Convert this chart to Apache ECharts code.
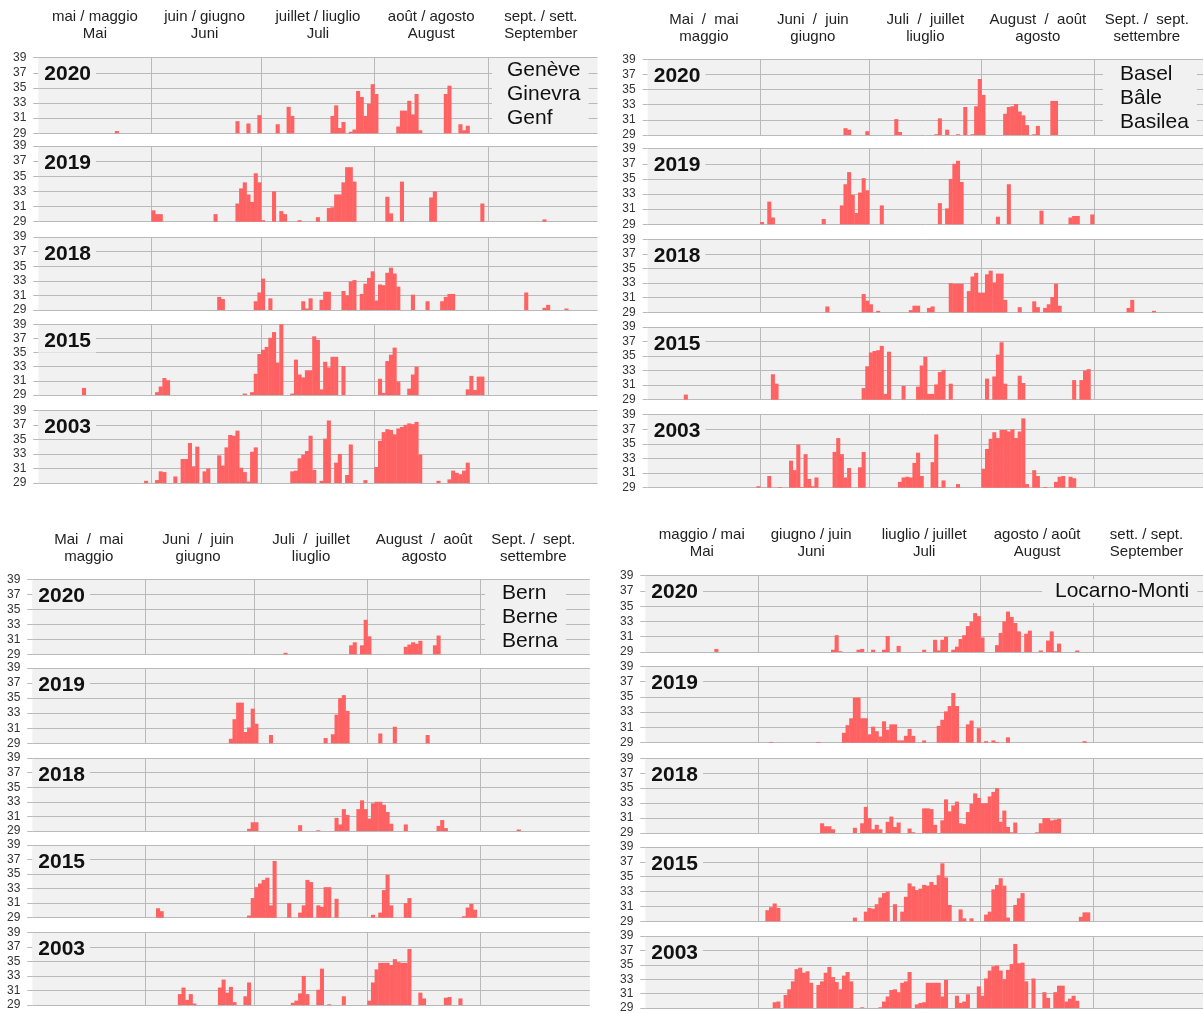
<!DOCTYPE html>
<html>
<head>
<meta charset="utf-8">
<title>Hot days, May to September</title>
<script src="https://cdn.jsdelivr.net/npm/echarts@6/dist/echarts.min.js"></script>
<style>
  html, body { margin: 0; padding: 0; background: #fff; }
  #chart { width: 1203px; height: 1014px; }
</style>
</head>
<body>
<div id="chart"></div>
<script>
// daily maximum temperature (°C), only days above 29 are drawn
// day index 0 = 1 May ... 152 = 30 Sept; each run is [first day, value, value, ...]
const years = ["2020", "2019", "2018", "2015", "2003"];

const genf2020 = [[21, 29.3], [54, 30.6], [57, 30.3], [60, 31.4], [65, 30.2], [68, 32.5, 31.3],
  [80, 31.3, 32.7, 29.7, 30.5], [85, 29.2, 29.5, 34.6, 33.8, 31.3, 32.9, 35.5, 34.2],
  [98, 29.9, 32.0, 32.0, 33.3, 31.5, 34.2, 29.4], [111, 34.2, 35.3], [115, 30.2, 29.4, 30.0]];
const genf2019 = [[31, 30.5, 30.0, 30.0], [48, 30.0], [54, 31.4, 33.4, 34.2, 32.6, 31.6, 35.4, 34.2, 29.2],
  [64, 33.0], [66, 30.4, 30.0], [71, 29.2], [76, 29.6], [79, 30.8, 30.9, 32.6, 32.6, 34.2, 36.2, 36.2, 34.3],
  [95, 32.3, 30.1], [99, 34.3], [107, 32.2, 33.0], [121, 31.4], [138, 29.3]];
const genf2018 = [[49, 30.8, 30.5], [59, 30.2, 31.4, 33.3], [63, 30.6], [72, 30.2, 29.2, 30.6],
  [77, 30.4, 31.5, 31.5], [83, 31.6, 31.0, 32.9, 33.1],
  [88, 31.2, 32.6, 33.4, 34.3, 30.3, 32.5, 32.4, 34.1, 34.8, 34.0, 32.2], [102, 31.1], [106, 30.2],
  [110, 30.2, 30.8, 31.2, 31.2], [133, 31.4], [138, 29.3, 29.7], [144, 29.2]];
const genf2015 = [[12, 30.0], [32, 29.4, 30.2, 31.4, 31.1], [56, 29.2],
  [58, 29.4, 32.0, 34.8, 35.4, 35.8, 37.1, 37.9, 33.6, 39.6],
  [69, 29.2, 34.0, 31.9, 31.5, 32.5, 32.5, 37.3, 36.8, 29.8, 33.7, 32.9, 34.4, 34.4], [83, 33.1],
  [93, 31.3, 29.3, 33.8, 34.7, 35.7, 30.9], [101, 29.9, 31.9, 33.0], [117, 29.8, 31.7, 29.7, 31.6, 31.6]];
const genf2003 = [[29, 29.3], [32, 29.4, 30.6, 30.5], [37, 29.9], [39, 32.3, 32.3, 34.5, 31.3, 34.0],
  [45, 30.6, 31.0], [49, 32.8, 31.4, 33.9, 35.6, 35.5, 36.2, 31.1, 30.5, 29.2, 33.3, 33.9],
  [69, 30.6, 30.7, 32.4, 32.9, 33.4, 35.5, 30.8], [77, 29.3, 35.1, 37.6], [81, 31.8, 33.0], [84, 30.1, 34.3],
  [89, 29.4], [92, 31.2, 34.8, 36.0, 36.4, 36.3, 35.7, 36.5, 36.7, 37.0, 37.2, 37.1, 37.4, 32.9],
  [109, 29.3], [112, 29.5, 30.7, 30.4, 30.2, 30.7, 31.8]];

const basel2020 = [[54, 29.9, 29.7], [60, 29.5], [68, 31.1, 29.4], [79, 29.1, 31.2], [82, 29.7], [85, 29.1],
  [87, 32.7], [89, 29.1, 32.8, 36.4, 34.3], [98, 31.8, 32.7, 32.8, 33.1, 32.1, 31.6, 30.3],
  [106, 29.1, 30.2], [111, 33.5, 33.5]];
const basel2019 = [[31, 29.3], [33, 32.0, 29.9], [48, 29.7], [53, 31.5, 34.3, 35.9, 32.9, 30.5, 33.2, 35.1, 33.5],
  [64, 31.5], [80, 31.8], [82, 31.1, 35.0, 37.0, 37.4, 34.6], [96, 30.0], [99, 34.3], [108, 30.8],
  [116, 29.9, 30.1, 30.1], [122, 30.3]];
const basel2018 = [[49, 29.8], [59, 31.5, 30.6, 30.1], [63, 29.2], [72, 29.3, 29.9, 29.9], [77, 29.6, 29.8],
  [83, 33.0, 32.9, 32.9, 32.9], [88, 31.9, 33.9, 34.4, 31.7, 31.7, 34.2, 34.7, 33.1, 34.3, 34.3, 30.7],
  [102, 29.7], [106, 30.5, 29.7], [109, 29.6, 30.1, 31.1, 32.9, 29.9], [132, 29.6, 30.7], [139, 29.2]];
const basel2015 = [[10, 29.7], [34, 32.5, 31.2], [59, 30.6, 33.6, 35.5, 35.7, 35.8, 36.4, 29.8, 35.6], [70, 30.9],
  [74, 30.8, 33.7, 34.9, 29.8, 29.8, 31.1, 32.8, 33.1], [83, 31.2], [93, 31.9], [95, 32.2, 35.2, 36.9, 31.2],
  [102, 32.3, 31.3], [117, 31.7], [119, 31.7, 33.0, 33.2]];
const basel2003 = [[30, 29.2], [33, 30.6], [36, 29.1], [39, 32.7, 31.4, 34.9, 29.1, 33.6, 30.2, 29.2, 30.4],
  [51, 33.9, 35.8, 33.6, 30.4, 31.7], [58, 31.8, 33.9], [69, 29.8, 30.4, 30.5, 30.4, 32.4, 33.8, 30.6],
  [78, 32.5, 36.3, 29.1, 30.0], [85, 29.5],
  [92, 31.6, 34.3, 35.7, 36.6, 35.8, 36.9, 36.9, 36.7, 37.0, 35.8, 36.7, 38.5, 29.5],
  [106, 31.4, 30.6], [109, 29.1], [112, 29.8, 30.5, 30.6], [116, 30.5, 30.3]];

const bern2020 = [[69, 29.2], [87, 30.2, 30.6], [90, 30.2, 33.6, 31.4], [102, 30.0, 30.3, 30.6, 30.4, 30.8],
  [110, 30.2, 31.5]];
const bern2019 = [[54, 29.6, 32.2, 34.4, 34.4, 30.5, 31.1, 33.6, 31.6], [65, 30.1], [80, 29.7],
  [82, 30.2, 32.8, 35.0, 35.4, 33.3], [95, 30.3], [99, 31.2], [108, 30.1]];
const bern2018 = [[59, 29.3, 30.2, 30.2], [73, 29.8], [78, 29.1], [83, 30.8, 29.9, 32.0, 31.2],
  [89, 32.0, 33.2, 32.0, 30.7, 32.8, 33.0, 33.0, 32.6, 31.6, 30.0], [102, 29.9], [111, 29.7, 30.5, 29.4],
  [133, 29.2]];
const bern2015 = [[34, 30.3, 29.9], [59, 29.3, 31.7, 33.2, 33.7, 34.2, 34.5, 30.7, 36.8], [70, 31.0],
  [73, 29.7, 30.7, 34.2, 33.9], [78, 30.7, 30.5, 33.2, 33.2], [83, 31.6], [93, 29.4], [95, 29.7, 32.8, 34.9, 30.7],
  [102, 31.0, 31.7], [118, 29.2, 30.4, 30.9, 30.1]];
const bern2003 = [[40, 30.5, 31.4, 29.7, 30.5, 29.2], [51, 31.4, 32.5, 30.7, 31.5, 29.4], [58, 30.2, 32.1],
  [71, 29.3, 29.6, 30.6, 33.0, 30.5], [78, 31.1, 34.0], [81, 29.1], [85, 30.2],
  [92, 29.6, 32.1, 33.9, 34.8, 34.8, 34.8, 34.5, 35.3, 34.9, 34.8, 34.8, 36.7], [106, 30.7, 29.9],
  [113, 30.0, 30.1], [117, 29.9]];

const locarno2020 = [[19, 29.4], [51, 29.3, 31.2, 29.1], [58, 29.3, 29.4], [62, 29.3], [65, 29.3, 31.1], [69, 29.8],
  [76, 29.3], [79, 30.6, 29.2, 30.6, 31.0], [84, 29.3, 29.7, 30.7, 31.2, 32.4, 33.0, 34.1, 33.7, 30.9],
  [96, 29.9, 31.5, 33.0, 34.3, 33.6, 32.8, 31.7], [104, 31.4, 31.8], [108, 29.2], [110, 30.5, 31.7, 29.1, 30.1],
  [118, 29.2]];
const locarno2019 = [[34, 29.1], [47, 29.1],
  [54, 30.3, 31.3, 32.2, 34.9, 34.9, 32.2, 32.2, 30.1, 31.1, 30.5, 29.8, 31.8, 30.7, 31.4, 31.4, 29.3, 29.3],
  [71, 29.9, 30.8, 29.9], [76, 29.3], [80, 31.2, 32.0, 33.1, 33.8, 35.5, 33.8], [88, 31.4, 31.9], [91, 30.9],
  [93, 29.2], [95, 29.3, 29.1], [99, 29.7], [120, 29.2]];
const locarno2018 = [[48, 30.3, 29.9, 29.9, 29.5], [57, 29.7], [59, 30.3, 32.5, 31.0, 29.5, 30.1, 29.5],
  [66, 30.5, 31.2, 29.8, 30.4], [72, 29.6, 29.1], [76, 32.3, 32.3, 32.2, 30.1],
  [81, 30.7, 33.5, 31.9, 32.7, 33.2, 30.3, 30.2, 31.8, 32.9, 34.3, 33.7, 33.0, 33.0, 33.9, 34.5, 35.0, 30.5, 32.0, 29.8, 29.1, 30.4],
  [107, 29.1, 30.3, 31.0, 31.0, 30.7, 30.8, 30.9]];
const locarno2015 = [[33, 30.5, 30.9, 31.4, 30.8], [57, 29.5], [60, 30.3, 30.8, 30.7, 31.3, 32.2, 32.8, 33.0],
  [68, 31.3], [70, 30.3, 32.3, 34.1, 33.7, 33.2, 33.4, 33.9, 33.8, 34.3, 33.9, 35.2, 36.8, 34.9, 31.2],
  [86, 30.6, 29.4], [89, 29.4], [93, 29.9, 30.3, 33.3, 33.9, 34.8, 33.8, 29.5], [101, 31.2, 32.1, 32.8],
  [119, 29.6, 30.2, 30.2]];
const locarno2003 = [[35, 29.8, 29.9], [38, 30.8, 31.6, 32.7, 34.4, 34.6, 33.9, 34.1, 32.5],
  [47, 32.2, 32.7, 33.9, 34.7, 33.3, 32.6, 31.6, 33.5, 34.0, 32.7], [59, 29.1],
  [64, 29.1, 29.9, 30.6, 31.5, 31.6, 31.2, 32.5, 32.7, 34.0], [74, 29.5, 29.7, 29.8, 32.5, 32.5, 32.5, 32.5, 30.6, 32.9],
  [85, 30.7, 29.7, 29.9, 30.9],
  [91, 32.0, 30.7, 33.1, 34.2, 34.8, 34.9, 34.2, 33.0, 34.3, 35.1, 37.9, 35.2, 35.3, 32.7], [106, 33.1],
  [109, 31.2, 30.4], [112, 31.2, 32.1, 32.1, 29.9, 30.3, 30.7, 30.0]];

// month headers (one per month, trilingual)
const headersGenf = ["mai / maggio\nMai", "juin / giugno\nJuni", "juillet / liuglio\nJuli", "août / agosto\nAugust", "sept. / sett.\nSeptember"];
const headersDe = ["Mai  /  mai\nmaggio", "Juni  /  juin\ngiugno", "Juli  /  juillet\nliuglio", "August  /  août\nagosto", "Sept. /  sept.\nsettembre"];
const headersIt = ["maggio / mai\nMai", "giugno / juin\nJuni", "liuglio / juillet\nJuli", "agosto / août\nAugust", "sett. / sept.\nSeptember"];

const cityGenf = ["Genève", "Ginevra", "Genf"];
const cityBasel = ["Basel", "Bâle", "Basilea"];
const cityBern = ["Bern", "Berne", "Berna"];
const cityLocarno = ["Locarno-Monti"];

const days = Array.from({ length: 153 }, (_, i) => String(i));
const monthStarts = [31, 61, 92, 123];
const headerDays = [15, 45, 76, 107, 137];

const FONT = '"Liberation Sans", Arial, Helvetica, sans-serif';
const PLOT_BG = "#f1f1f1";
const LINE = "#b9b9b9";
const BAR = "#ff6262";

const panels = [
  { series: [genf2020, genf2019, genf2018, genf2015, genf2003], headers: headersGenf, city: cityGenf,
    left: 38.3, width: 559.2, tops: [57.7, 146, 237, 324.3, 410.3], heights: [75.6, 75.7, 73, 70.7, 72.7],
    headMargin: 15, cityBox: { x: 492, y: 58, pad: [0, 8, 0, 15] } },
  { series: [basel2020, basel2019, basel2018, basel2015, basel2003], headers: headersDe, city: cityBasel,
    left: 647.7, width: 560.6, tops: [59.3, 148.7, 239.3, 327, 414.7], heights: [75.7, 75.6, 73, 72.7, 73],
    headMargin: 14, cityBox: { x: 1103, y: 62, pad: [0, 8, 0, 17] } },
  { series: [bern2020, bern2019, bern2018, bern2015, bern2003], headers: headersDe, city: cityBern,
    left: 32.3, width: 557.5, tops: [579.3, 668, 758, 845, 932.3], heights: [75, 75.3, 73, 72.7, 72.7],
    headMargin: 14, cityBox: { x: 485, y: 581, pad: [0, 8, 0, 17] } },
  { series: [locarno2020, locarno2019, locarno2018, locarno2015, locarno2003], headers: headersIt, city: cityLocarno,
    left: 645.3, width: 559.2, tops: [575.7, 666.3, 758.3, 847, 936], heights: [76.3, 76.4, 74.7, 74.3, 74],
    headMargin: 15, cityBox: { x: 1042, y: 579, pad: [0, 8, 0, 13] } },
];

function expand(runs) {
  const out = days.map(() => "-");
  runs.forEach((run) => {
    run.slice(1).forEach((v, k) => { out[run[0] + k] = v; });
  });
  return out;
}

const grid = [], xAxis = [], yAxis = [], series = [], graphic = [];

panels.forEach((p) => {
  p.series.forEach((runs, s) => {
    const idx = grid.length;
    grid.push({
      left: p.left, top: p.tops[s], width: p.width, height: p.heights[s],
      show: true, backgroundColor: PLOT_BG, borderWidth: 0,
    });
    const headers = p.headers;
    xAxis.push({
      type: "category", gridIndex: idx, data: days, boundaryGap: true,
      position: s === 0 ? "top" : "bottom",
      axisLine: { show: false }, axisTick: { show: false },
      splitLine: {
        show: true, showMaxLine: false,
        interval: (i) => monthStarts.includes(i),
        lineStyle: { color: LINE, width: 1 },
      },
      axisLabel: s === 0 ? {
        show: true,
        interval: (i) => headerDays.includes(i),
        formatter: (v) => headers[headerDays.indexOf(Number(v))],
        fontSize: 15, lineHeight: 17, color: "#222", fontFamily: FONT,
        margin: p.headMargin,
      } : { show: false },
    });
    yAxis.push({
      type: "value", gridIndex: idx, min: 29, max: 39, interval: 2,
      axisLine: { show: false },
      axisTick: { show: true, length: 5, lineStyle: { color: LINE } },
      splitLine: { show: true, lineStyle: { color: LINE, width: 1 } },
      axisLabel: { fontSize: 12, color: "#333", fontFamily: FONT, margin: 12 },
    });
    series.push({
      type: "bar", xAxisIndex: idx, yAxisIndex: idx,
      data: expand(runs),
      // slightly wider than the day band so neighbouring days join without hairline seams
      barWidth: "112%", barCategoryGap: 0,
      itemStyle: { color: BAR },
      silent: true, clip: true,
    });
    graphic.push({
      type: "text", x: p.left, y: p.tops[s] + 17, z: 100,
      style: {
        text: years[s], fontSize: 21, fontWeight: "bold", fontFamily: FONT, fill: "#111",
        verticalAlign: "middle", backgroundColor: PLOT_BG, padding: [1, 5, 1, 6],
      },
    });
  });
  graphic.push({
    type: "text", x: p.cityBox.x, y: p.cityBox.y, z: 100,
    style: {
      text: p.city.join("\n"), fontSize: 21, lineHeight: 24, fontFamily: FONT, fill: "#111",
      verticalAlign: "top", backgroundColor: PLOT_BG, padding: p.cityBox.pad,
    },
  });
});

const chart = echarts.init(document.getElementById("chart"), null, { renderer: "canvas" });
chart.setOption({
  animation: false,
  backgroundColor: "#fff",
  textStyle: { fontFamily: FONT },
  grid, xAxis, yAxis, series, graphic,
});
</script>
</body>
</html>
